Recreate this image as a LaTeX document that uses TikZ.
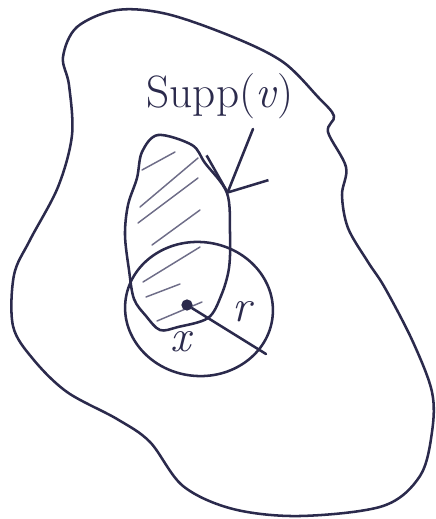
\documentclass[tikz,border=0pt]{standalone}
\usepackage{tikz}
\usetikzlibrary{arrows.meta, positioning}
\definecolor{tinta}{HTML}{2B2A4C}
\definecolor{rayado}{HTML}{6E6D88}

\begin{document}
\begin{tikzpicture}[x=0.75pt, y=-0.75pt, line cap=round, line join=round,
  trazo/.style={draw=tinta, line width=1.9pt},
  rayas/.style={draw=rayado, line width=1.1pt},
  etiqueta/.style={text=tinta, font=\fontsize{34}{36}\selectfont}]
\useasboundingbox (0,0) rectangle (436,519);

% Dominio exterior
\draw[trazo] plot[smooth cycle, tension=0.55] coordinates {
  (77,27) (117,10) (167,14) (233,37) (283,62) (318,97) (334,116) (328,132)
  (346,167) (342,195) (348,228) (368,262) (385,288) (413,342) (432,392)
  (432,432) (420,476) (383,506) (300,516) (233,509) (183,486) (150,442)
  (117,419) (67,392) (33,359) (13,326) (14,275) (30,240) (58,187) (72,135)
  (69,85) (63,57)};

% Soporte rayado
\draw[trazo] plot[smooth cycle, tension=0.55] coordinates {
  (158,135) (192,145) (205,163) (227,193) (230,233) (229,268) (221,296)
  (208,318) (178,327) (160,330) (146,316) (134,299) (129,270) (125,235)
  (128,205) (137,178) (142,152)};
\foreach \ax/\ay/\bx/\by in {142/170/175/152, 140/207/198/158, 138/223/198/178,
    152/245/200/210, 143/282/200/247, 146/297/180/284, 157/321/202/302}
  \draw[rayas] (\ax,\ay) -- (\bx,\by);

% Bola de radio r
\draw[trazo] (199,309) ellipse [x radius=74, y radius=67, rotate=-6];
\node (centro) [circle, fill=tinta, inner sep=3pt] at (187,305) {};
\coordinate (radio) at (266,354);
\draw[trazo] (centro) -- (radio);
\node (r) [etiqueta] at (243,312) {\textit{r}};
\node (x) [etiqueta] at (182,342) {\textit{x}};

% Etiqueta y flecha
\node (supp) [etiqueta] at (220,96) {Supp(\textit{v})};
\coordinate (cola) at (253,129);
\coordinate (punta) at (227,194);
\draw[trazo, -{Straight Barb[length=20pt, width=50pt, line width=1.9pt]}] (cola) -- (punta);

\end{tikzpicture}
\end{document}
